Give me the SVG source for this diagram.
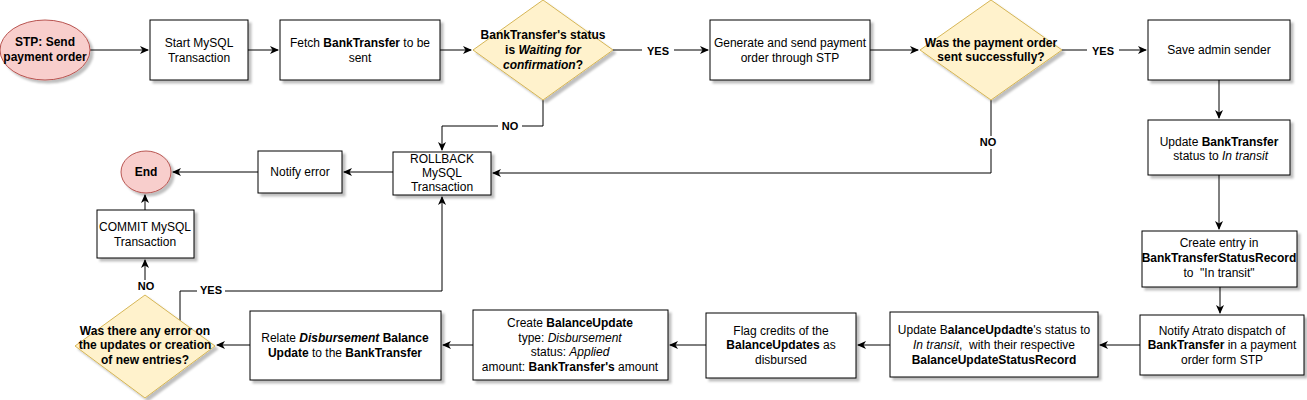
<svg xmlns="http://www.w3.org/2000/svg" width="1307" height="400" viewBox="0 0 1307 400">
<defs>
<filter id="sh" x="-10%" y="-10%" width="130%" height="140%">
<feDropShadow dx="3" dy="3" stdDeviation="1.2" flood-color="#000" flood-opacity="0.25"/>
</filter>
<marker id="ar" markerWidth="10" markerHeight="8" refX="8" refY="4" orient="auto" markerUnits="userSpaceOnUse">
<path d="M0,0 L9,4 L0,8 L2.5,4 z" fill="#000"/>
</marker>
</defs>
<style>
text{font-family:"Liberation Sans",Arial,Helvetica,sans-serif;font-size:12px;fill:#000;text-anchor:middle}
.b{font-weight:bold}
.i{font-style:italic}
.box{fill:#fff;stroke:#000;stroke-width:1;filter:url(#sh)}
.term{fill:#f8cecc;stroke:#b85450;stroke-width:1;filter:url(#sh)}
.dec{fill:#fff2cc;stroke:#d6b656;stroke-width:1;filter:url(#sh)}
.c{fill:none;stroke:#000;stroke-width:1;marker-end:url(#ar)}
.lbl{font-size:11px;font-weight:bold}
</style>
<rect width="1307" height="400" fill="#fff"/>
<g id="connectors">
<path class="c" d="M90,50 L148,50"/>
<path class="c" d="M248,50 L278,50"/>
<path class="c" d="M440,50 L471,50"/>
<path class="c" d="M613,50 L708,50"/>
<path class="c" d="M870,50 L918,50"/>
<path class="c" d="M1062,50 L1146,50"/>
<path class="c" d="M1219,80 L1219,118"/>
<path class="c" d="M1219,175 L1219,229"/>
<path class="c" d="M1220,287 L1220,313"/>
<path class="c" d="M1140,345 L1100,345"/>
<path class="c" d="M890,345 L858,345"/>
<path class="c" d="M706,345 L670,345"/>
<path class="c" d="M473,345 L443,345"/>
<path class="c" d="M250,345 L217,345"/>
<path class="c" d="M145,293 L145,260"/>
<path class="c" d="M145,210 L145,195"/>
<path class="c" d="M180,321 L180,291 L442,291 L442,197"/>
<path class="c" d="M543,100 L543,126 L442,126 L442,150"/>
<path class="c" d="M991,100 L991,173 L493,173"/>
<path class="c" d="M393,172 L344,172"/>
<path class="c" d="M258,172 L173,172"/>
<rect x="642" y="44" width="32" height="13" fill="#fff"/>
<text class="lbl" x="658" y="55">YES</text>
<rect x="1087" y="44" width="32" height="13" fill="#fff"/>
<text class="lbl" x="1103" y="55">YES</text>
<rect x="498" y="120" width="24" height="13" fill="#fff"/>
<text class="lbl" x="510" y="130">NO</text>
<rect x="976" y="136" width="24" height="13" fill="#fff"/>
<text class="lbl" x="988" y="146">NO</text>
<rect x="133" y="280" width="24" height="13" fill="#fff"/>
<text class="lbl" x="146" y="290">NO</text>
<rect x="197" y="284" width="28" height="13" fill="#fff"/>
<text class="lbl" x="211" y="294">YES</text>
</g>
<g id="start">
<ellipse class="term" cx="45" cy="50" rx="45" ry="30"/>
<text class="b" x="45" y="46">STP: Send</text>
<text class="b" x="45" y="61">payment order</text>
</g>
<g id="start-tx">
<rect class="box" x="150" y="20" width="98" height="60"/>
<text x="199" y="47">Start MySQL</text>
<text x="199" y="62">Transaction</text>
</g>
<g id="fetch">
<rect class="box" x="280" y="20" width="160" height="60"/>
<text x="360" y="47">Fetch <tspan class="b">BankTransfer</tspan> to be</text>
<text x="360" y="62">sent</text>
</g>
<g id="dec-status">
<polygon class="dec" points="543,0 613,50 543,100 473,50"/>
<text class="b" x="543" y="39">BankTransfer's status</text>
<text class="b" x="543" y="54">is <tspan class="i">Waiting for</tspan></text>
<text class="b" x="543" y="69"><tspan class="i">confirmation</tspan>?</text>
</g>
<g id="generate">
<rect class="box" x="710" y="20" width="160" height="60"/>
<text x="790" y="47">Generate and send payment</text>
<text x="790" y="62">order through STP</text>
</g>
<g id="dec-sent">
<polygon class="dec" points="991,0 1062,50 991,100 920,50"/>
<text class="b" x="991" y="47">Was the payment order</text>
<text class="b" x="991" y="61">sent successfully?</text>
</g>
<g id="save-admin">
<rect class="box" x="1148" y="20" width="142" height="60"/>
<text x="1219" y="54">Save admin sender</text>
</g>
<g id="update-bt">
<rect class="box" x="1148" y="120" width="142" height="55"/>
<text x="1219" y="146">Update <tspan class="b">BankTransfer</tspan></text>
<text x="1219" y="160">&#160;status to <tspan class="i">In transit</tspan></text>
</g>
<g id="create-entry">
<rect class="box" x="1142" y="231" width="155" height="56"/>
<text x="1219" y="247">Create entry in</text>
<text class="b" x="1219" y="262">BankTransferStatusRecord</text>
<text x="1219" y="277">to &#160;"In transit"</text>
</g>
<g id="notify-atrato">
<rect class="box" x="1140" y="315" width="164" height="60"/>
<text x="1222" y="335">Notify Atrato dispatch of</text>
<text x="1222" y="349"><tspan class="b">BankTransfer</tspan> in a payment</text>
<text x="1222" y="364">order form STP</text>
</g>
<g id="update-bu">
<rect class="box" x="890" y="312" width="208" height="65"/>
<text x="994" y="334">Update B<tspan class="b">alanceUpdadte</tspan>'s status to</text>
<text x="994" y="349"><tspan class="i">In transit</tspan>, &#160;with their respective</text>
<text class="b" x="994" y="364">BalanceUpdateStatusRecord</text>
</g>
<g id="flag-credits">
<rect class="box" x="706" y="313" width="150" height="65"/>
<text x="781" y="335">Flag credits of the</text>
<text x="781" y="349"><tspan class="b">BalanceUpdates</tspan> as</text>
<text x="781" y="364">disbursed</text>
</g>
<g id="create-bu">
<rect class="box" x="473" y="310" width="195" height="70"/>
<text x="570" y="327">Create <tspan class="b">BalanceUpdate</tspan></text>
<text x="570" y="342">type: <tspan class="i">Disbursement</tspan></text>
<text x="570" y="356">status: <tspan class="i">Applied</tspan></text>
<text x="570" y="371">amount: <tspan class="b">BankTransfer's</tspan> amount</text>
</g>
<g id="relate">
<rect class="box" x="250" y="311" width="191" height="69"/>
<text x="345" y="342">Relate <tspan class="b"><tspan class="i">Disbursement</tspan> Balance</tspan></text>
<text x="345" y="357"><tspan class="b">Update</tspan> to the <tspan class="b">BankTransfer</tspan></text>
</g>
<g id="dec-error">
<polygon class="dec" points="145,295 215,346 145,398 75,346"/>
<text class="b" x="145" y="335">Was there any error on</text>
<text class="b" x="145" y="349">the updates or creation</text>
<text class="b" x="145" y="364">of new entries?</text>
</g>
<g id="commit">
<rect class="box" x="97" y="210" width="97" height="48"/>
<text x="145" y="231">COMMIT MySQL</text>
<text x="145" y="246">Transaction</text>
</g>
<g id="end">
<ellipse class="term" cx="146" cy="172" rx="25" ry="21"/>
<text class="b" x="146" y="176">End</text>
</g>
<g id="notify-error">
<rect class="box" x="258" y="151" width="84" height="42"/>
<text x="300" y="176">Notify error</text>
</g>
<g id="rollback">
<rect class="box" x="393" y="152" width="98" height="43"/>
<text x="442" y="163">ROLLBACK</text>
<text x="442" y="177">MySQL</text>
<text x="442" y="191">Transaction</text>
</g>
</svg>
